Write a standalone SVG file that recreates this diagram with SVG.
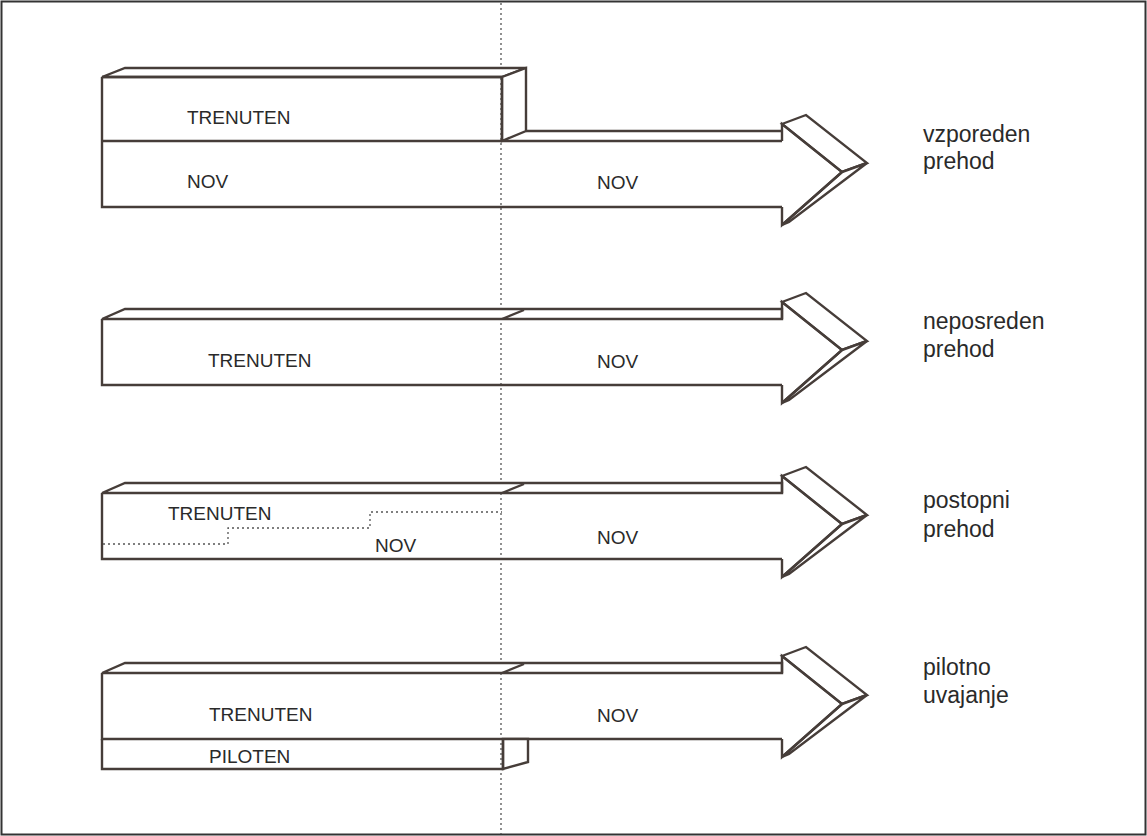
<svg xmlns="http://www.w3.org/2000/svg" width="1147" height="836" viewBox="0 0 1147 836">
<style>
.ln{fill:none;stroke:#463d39;stroke-width:2.4;stroke-linejoin:miter}
.fc{fill:#fff;stroke:#463d39;stroke-width:2.4;stroke-linejoin:miter}
.dot{fill:none;stroke:#555;stroke-width:1.3;stroke-dasharray:2 3}
.t{font-family:"Liberation Sans",Arial,sans-serif;font-size:19px;fill:#2a2a2a}
.lb{font-family:"Liberation Sans",Arial,sans-serif;font-size:23px;fill:#2a2a2a}
</style>
<defs>
<g id="head">
<polygon class="fc" points="782,124 806,115 867,163 842,172"/>
<polygon class="fc" points="842,172 867,163 789,222 782,225"/>
<polyline class="ln" points="782,141 782,124 842,172 782,225 782,207"/>
</g>
</defs>
<rect x="1.5" y="1.5" width="1144" height="833" fill="#fff" stroke="#333" stroke-width="2"/>
<g id="connectors">
<line class="dot" x1="501" y1="3" x2="501" y2="834"/>
</g>
<g id="panel1">
<polygon class="fc" points="102,77 125,68 526,68 502,77"/>
<polygon class="fc" points="502,77 526,68 526,131 502,141"/>
<polyline class="ln" points="102,77 502,77 502,141"/>
<line class="ln" x1="526" y1="131" x2="782" y2="131"/>
<line class="ln" x1="102" y1="141" x2="782" y2="141"/>
<polyline class="ln" points="102,77 102,207 782,207"/>
<use href="#head"/>
<text class="t" x="187" y="124">TRENUTEN</text>
<text class="t" x="187" y="188">NOV</text>
<text class="t" x="597" y="189">NOV</text>
<text class="lb" x="923" y="142">vzporeden</text>
<text class="lb" x="923" y="169">prehod</text>
</g>
<g id="panel2">
<g transform="translate(0,178)">
<polygon class="fc" points="102,141 125,131 782,131 782,141"/>
<line class="ln" x1="502" y1="141" x2="524" y2="132"/>
<polyline class="ln" points="102,141 102,207 782,207"/>
<use href="#head"/>
</g>
<text class="t" x="208" y="367">TRENUTEN</text>
<text class="t" x="597" y="368">NOV</text>
<text class="lb" x="923" y="329">neposreden</text>
<text class="lb" x="923" y="357">prehod</text>
</g>
<g id="panel3">
<g transform="translate(0,352)">
<polygon class="fc" points="102,141 125,131 782,131 782,141"/>
<line class="ln" x1="502" y1="141" x2="524" y2="132"/>
<polyline class="ln" points="102,141 102,207 782,207"/>
<use href="#head"/>
</g>
<polyline class="dot" points="103,544 228,544 228,528 370,528 370,512 502,512"/>
<text class="t" x="168" y="520">TRENUTEN</text>
<text class="t" x="375" y="552">NOV</text>
<text class="t" x="597" y="544">NOV</text>
<text class="lb" x="923" y="508">postopni</text>
<text class="lb" x="923" y="537">prehod</text>
</g>
<g id="panel4">
<g transform="translate(0,532)">
<polygon class="fc" points="102,141 125,131 782,131 782,141"/>
<line class="ln" x1="502" y1="141" x2="524" y2="132"/>
<polyline class="ln" points="102,141 102,207 782,207"/>
<use href="#head"/>
</g>
<polygon class="fc" points="503,739 528,739 528,762 503,769"/>
<polyline class="ln" points="102,739 102,769 503,769 503,739"/>
<text class="t" x="209" y="721">TRENUTEN</text>
<text class="t" x="209" y="763">PILOTEN</text>
<text class="t" x="597" y="722">NOV</text>
<text class="lb" x="923" y="675">pilotno</text>
<text class="lb" x="923" y="703">uvajanje</text>
</g>
</svg>
